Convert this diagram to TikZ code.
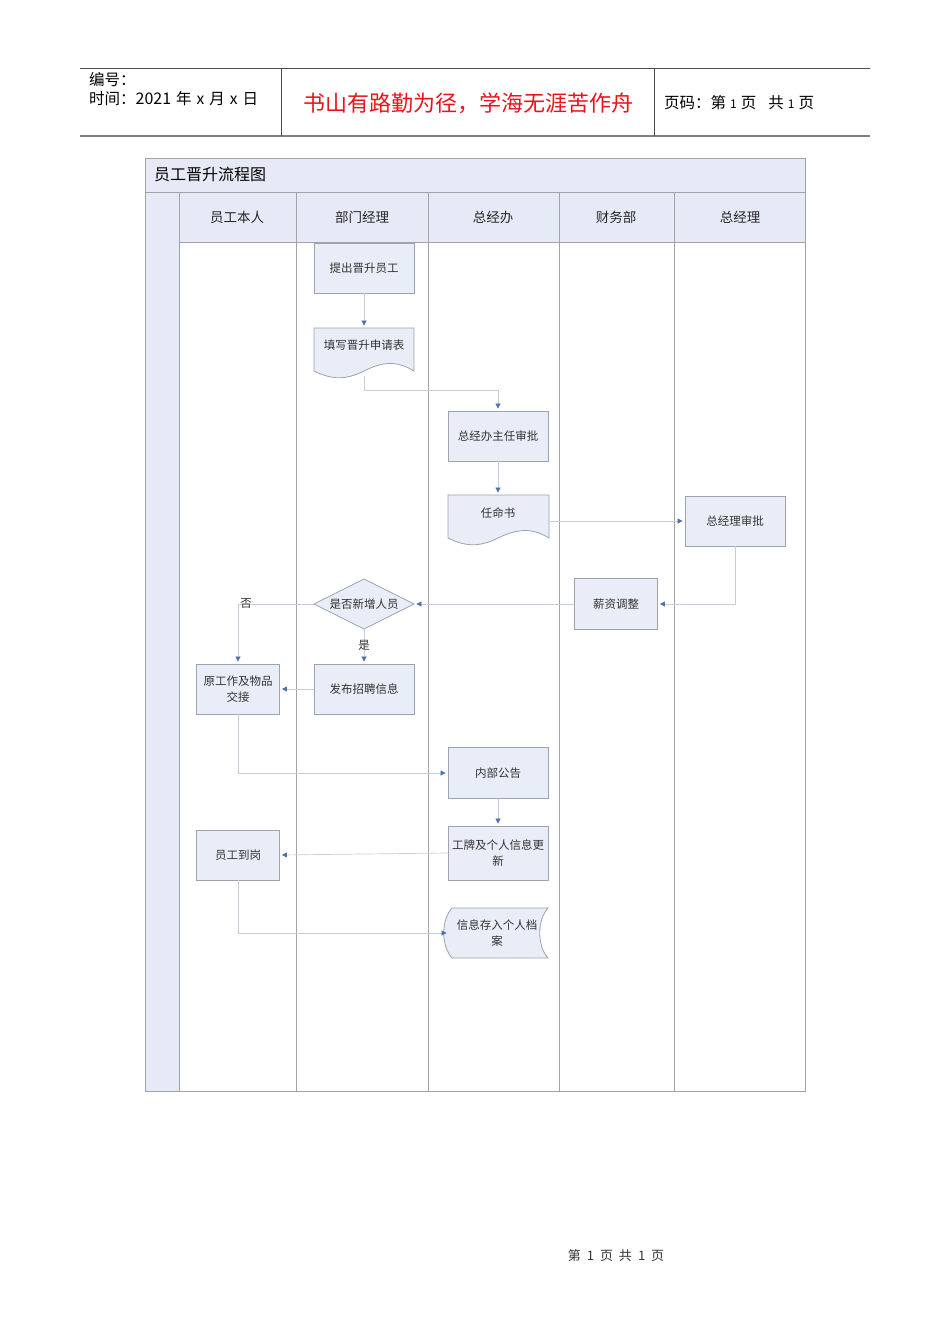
\documentclass[tikz,border=0pt]{standalone}
\usepackage{fontspec}
\newfontfamily\cjk{Noto Sans CJK SC}
\usetikzlibrary{arrows.meta,calc}
\definecolor{boxfill}{HTML}{E9EDF7}
\definecolor{boxline}{HTML}{9EA3AD}
\definecolor{lanefill}{HTML}{E6EAF6}
\definecolor{laneline}{HTML}{A3A3A3}
\definecolor{conn}{HTML}{C6CEDD}
\definecolor{tipc}{HTML}{4E71B0}
\definecolor{redtxt}{HTML}{E8141B}
\tikzset{
  box/.style={draw=boxline, fill=boxfill, line width=0.8pt, minimum width=100pt, minimum height=50pt, inner sep=1pt, align=center, font=\cjk\fontsize{11.5}{16}\selectfont, text=black!80},
  ghost/.style={box, draw=none, fill=none},
  shapeline/.style={draw=boxline, fill=boxfill, line width=0.8pt},
  flow/.style={draw=conn, line width=0.7pt, -{Triangle[width=5pt,length=5pt,color=tipc]}, shorten >=2pt},
  lane/.style={draw=laneline, line width=0.7pt},
  lanehead/.style={font=\cjk\fontsize{13.5}{15}\selectfont, text=black!85},
  lbl/.style={font=\cjk\fontsize{11.5}{13}\selectfont, text=black!80}
}
\begin{document}
\begin{tikzpicture}[x=1pt,y=-1pt]
\path[use as bounding box, fill=white] (0,0) rectangle (950,1344);
% page header
\draw[black!70, line width=0.8pt] (80,68) -- (870,68);
\draw[black!50, line width=1.4pt] (80,136) -- (870,136);
\draw[black!70, line width=0.8pt] (281,68) -- (281,136);
\draw[black!70, line width=0.8pt] (654,68) -- (654,136);
\node[anchor=west, font=\cjk\fontsize{15.5}{17}\selectfont, inner sep=0] (hno) at (89,80) {编号：};
\node[anchor=west, font=\cjk\fontsize{15.5}{17}\selectfont, inner sep=0] (htime) at (89,99) {时间：{\fontsize{16}{17}\selectfont 2021}\hspace{5pt}年\hspace{5pt}x\hspace{5pt}月\hspace{5pt}x\hspace{5pt}日};
\node[font=\cjk\fontsize{22}{24}\selectfont, text=redtxt, inner sep=0] (hmotto) at (468,103) {书山有路勤为径，学海无涯苦作舟};
\node[anchor=west, font=\cjk\fontsize{15.5}{17}\selectfont, inner sep=0] (hpage) at (664,103) {页码：第\hspace{4pt}{\fontsize{12}{14}\selectfont 1}\hspace{4pt}页\hspace{12pt}共\hspace{4pt}{\fontsize{12}{14}\selectfont 1}\hspace{4pt}页};
% swimlane frame
\fill[lanefill] (145,158) rectangle (805,242);
\fill[lanefill] (145,158) rectangle (179,1091);
\draw[lane] (145,158) rectangle (805,1091);
\draw[lane] (145,192) -- (805,192);
\draw[lane] (179,242) -- (805,242);
\draw[lane] (179,192) -- (179,1091);
\draw[lane] (296,192) -- (296,1091);
\draw[lane] (428,192) -- (428,1091);
\draw[lane] (559,192) -- (559,1091);
\draw[lane] (674,192) -- (674,1091);
\node[anchor=west, font=\cjk\fontsize{16}{18}\selectfont, inner sep=0] (title) at (154,174) {员工晋升流程图};
\node[lanehead] (l1) at (237,217) {员工本人};
\node[lanehead] (l2) at (362,217) {部门经理};
\node[lanehead] (l3) at (493,217) {总经办};
\node[lanehead] (l4) at (616,217) {财务部};
\node[lanehead] (l5) at (740,217) {总经理};
% nodes
\node[box] (tc) at (364,268) {提出晋升员工};
\draw[shapeline] (314,328) -- (414,328) -- (414,371) .. controls (396,360) and (382,362) .. (364,371) .. controls (346,380) and (332,380) .. (314,371) -- cycle;
\node[ghost, minimum height=30pt] (tx) at (364,345) {填写晋升申请表};
\coordinate (txb) at (364,376);
\node[box] (zr) at (498,436) {总经办主任审批};
\draw[shapeline] (448,495) -- (549,495) -- (549,538) .. controls (531,527) and (517,529) .. (498,538) .. controls (480,547) and (466,547) .. (448,538) -- cycle;
\node[ghost, minimum height=30pt] (rm) at (498,513) {任命书};
\node[box] (zs) at (735,521) {总经理审批};
\node[box, minimum width=83pt, minimum height=51pt] (xz) at (616,604) {薪资调整};
\draw[shapeline] (364,579) -- (414,604) -- (364,629) -- (314,604) -- cycle;
\node[ghost] (pd) at (364,604) {是否新增人员};
\node[box] (fb) at (364,689) {发布招聘信息};
\node[box, minimum width=83pt] (yg) at (238,689) {原工作及物品\\交接};
\node[box, minimum height=51pt] (nb) at (498,773) {内部公告};
\node[box, minimum height=54pt] (gp) at (498,853) {工牌及个人信息更\\新};
\node[box, minimum width=83pt] (dg) at (238,855) {员工到岗};
\draw[shapeline] (452,908) -- (548,908) .. controls (537,920) and (537,946) .. (548,958) -- (452,958) .. controls (441,946) and (441,920) .. (452,908) -- cycle;
\node[ghost, minimum width=96pt] (da) at (497,933) {信息存入个人档\\案};
% connectors
\draw[flow] (tc.south) -- ($(tx.north)+(0,-2)$);
\draw[flow] (txb) -- ++(0,14) -| (zr.north);
\draw[flow] (zr.south) -- ($(rm.north)+(0,-3)$);
\draw[flow] (549,521) -- (zs.west);
\draw[flow] (zs.south) |- (xz.east);
\draw[flow] (xz.west) -- (pd.east);
\draw[flow] (pd.west) -| (yg.north);
\draw[flow] (pd.south) -- (fb.north);
\draw[flow] (fb.west) -- (yg.east);
\draw[flow] (yg.south) |- (nb.west);
\draw[flow] (nb.south) -- (gp.north);
\draw[flow] (gp.west) -- (dg.east);
\draw[flow] (dg.south) |- (da.west);
\node[lbl] (no) at (246,603) {否};
\node[lbl] (yes) at (364,645) {是};
% footer
\node[font=\cjk\fontsize{13}{15}\selectfont, text=black!80] (foot) at (616,1256) {第\hspace{6pt}1\hspace{6pt}页\hspace{6pt}共\hspace{6pt}1\hspace{6pt}页};
\end{tikzpicture}
\end{document}
